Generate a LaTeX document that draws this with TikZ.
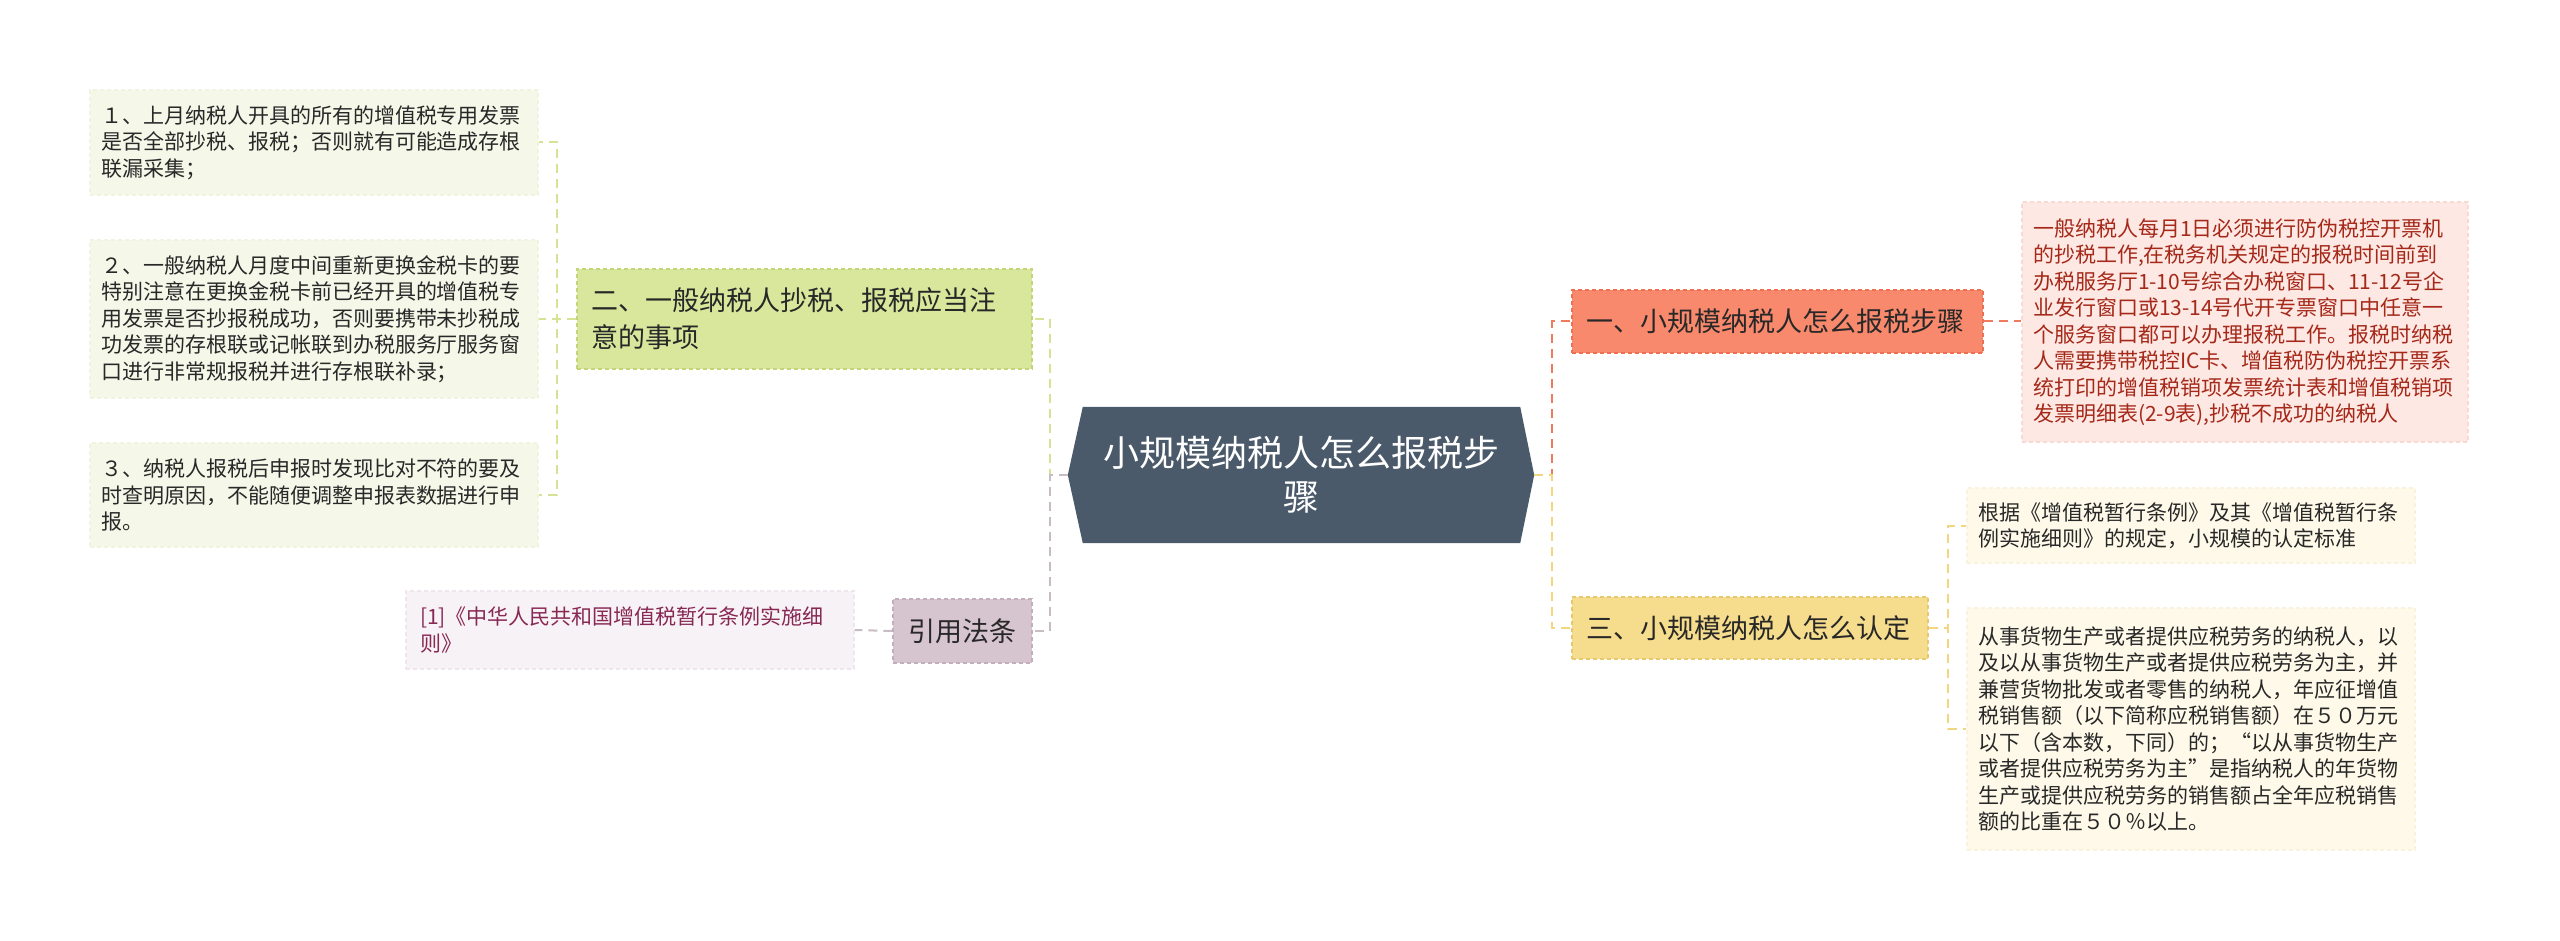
\documentclass[tikz,border=0pt]{standalone}
\usepackage{fontspec}
\setmainfont{Noto Sans CJK SC}
\usetikzlibrary{calc,backgrounds}
\definecolor{cfill}{RGB}{75,90,106}
\definecolor{gfill}{RGB}{217,231,156}
\definecolor{gborder}{RGB}{196,212,120}
\definecolor{gleaf}{RGB}{245,247,232}
\definecolor{gleafb}{RGB}{240,243,222}
\definecolor{rfill}{RGB}{249,137,108}
\definecolor{rborder}{RGB}{238,112,82}
\definecolor{rleaf}{RGB}{253,232,227}
\definecolor{rleafb}{RGB}{248,218,210}
\definecolor{rtext}{RGB}{165,40,25}
\definecolor{yfill}{RGB}{246,221,141}
\definecolor{yborder}{RGB}{232,200,110}
\definecolor{yleaf}{RGB}{254,249,232}
\definecolor{yleafb}{RGB}{249,242,220}
\definecolor{pfill}{RGB}{214,196,206}
\definecolor{pborder}{RGB}{195,175,188}
\definecolor{pleaf}{RGB}{247,242,245}
\definecolor{pleafb}{RGB}{238,230,236}
\definecolor{ptext}{RGB}{135,40,85}
\definecolor{maintext}{RGB}{40,40,40}
\definecolor{lgreen}{RGB}{215,226,150}
\definecolor{lred}{RGB}{239,122,92}
\definecolor{lyellow}{RGB}{243,214,128}
\definecolor{lgrey}{RGB}{200,188,196}
\begin{document}
\begin{tikzpicture}[x=1pt,y=-1pt,
  boxbase/.style={rectangle, dash pattern=on 4pt off 3pt, line width=1.2pt, inner ysep=0pt, anchor=center},
  leafbox/.style={boxbase, align=left, text width=426pt, inner xsep=11pt,
    font=\fontsize{21}{26.5}\selectfont, text=maintext},
  branchbox/.style={boxbase, align=left, inner xsep=14pt,
    font=\fontsize{27}{37}\selectfont, text=maintext},
  link/.style={line width=2pt, dash pattern=on 9pt off 6pt}]
\useasboundingbox (0,0) rectangle (2560,941);

% central topic
\node[minimum width=466pt, minimum height=136pt, inner sep=0pt, align=center,
  text=white, font=\fontsize{36}{44}\selectfont] (center) at (1301,475)
  {小规模纳税人怎么报税步\\骤};

% left branch
\node[branchbox, fill=gfill, draw=gborder, text width=427pt, minimum height=100pt] (b2) at (804.5,319)
  {二、一般纳税人抄税、报税应当注\\意的事项};
\node[leafbox, fill=gleaf, draw=gleafb, minimum height=105pt] (l1) at (314,142.5)
  {１、上月纳税人开具的所有的增值税专用发票\\是否全部抄税、报税；否则就有可能造成存根\\联漏采集；};
\node[leafbox, fill=gleaf, draw=gleafb, minimum height=158pt] (l2) at (314,319)
  {２、一般纳税人月度中间重新更换金税卡的要\\特别注意在更换金税卡前已经开具的增值税专\\用发票是否抄报税成功，否则要携带未抄税成\\功发票的存根联或记帐联到办税服务厅服务窗\\口进行非常规报税并进行存根联补录；};
\node[leafbox, fill=gleaf, draw=gleafb, minimum height=104pt] (l3) at (314,495)
  {３、纳税人报税后申报时发现比对不符的要及\\时查明原因，不能随便调整申报表数据进行申\\报。};

\node[boxbase, fill=pfill, draw=pborder, minimum width=139pt, minimum height=64pt,
  font=\fontsize{27}{37}\selectfont, text=maintext] (cite) at (962.5,631) {引用法条};
\node[leafbox, fill=pleaf, draw=pleafb, text=ptext, minimum height=78pt, inner xsep=14pt, text width=420pt] (ref) at (630,630)
  {[1]《中华人民共和国增值税暂行条例实施细\\则》};

% right branches
\node[branchbox, fill=rfill, draw=rborder, text width=383pt, minimum height=63pt] (b1) at (1777.5,321.5)
  {一、小规模纳税人怎么报税步骤};
\node[leafbox, fill=rleaf, draw=rleafb, text=rtext, text width=424pt, minimum height=240pt] (la) at (2245,322)
  {一般纳税人每月1日必须进行防伪税控开票机\\的抄税工作,在税务机关规定的报税时间前到\\办税服务厅1-10号综合办税窗口、11-12号企\\业发行窗口或13-14号代开专票窗口中任意一\\个服务窗口都可以办理报税工作。报税时纳税\\人需要携带税控IC卡、增值税防伪税控开票系\\统打印的增值税销项发票统计表和增值税销项\\发票明细表(2-9表),抄税不成功的纳税人};

\node[branchbox, fill=yfill, draw=yborder, text width=328pt, minimum height=62pt] (b3) at (1750,628)
  {三、小规模纳税人怎么认定};
\node[leafbox, fill=yleaf, draw=yleafb, minimum height=75pt] (lb) at (2191,525.5)
  {根据《增值税暂行条例》及其《增值税暂行条\\例实施细则》的规定，小规模的认定标准};
\node[leafbox, fill=yleaf, draw=yleafb, minimum height=242pt] (lc) at (2191,729)
  {从事货物生产或者提供应税劳务的纳税人，以\\及以从事货物生产或者提供应税劳务为主，并\\兼营货物批发或者零售的纳税人，年应征增值\\税销售额（以下简称应税销售额）在５０万元\\以下（含本数，下同）的；“以从事货物生产\\或者提供应税劳务为主”是指纳税人的年货物\\生产或提供应税劳务的销售额占全年应税销售\\额的比重在５０％以上。};

\begin{scope}[on background layer]
  \fill[cfill] (center.west) -- ($(center.north west)+(15,0)$) -- ($(center.north east)+(-14,0)$)
    -- (center.east) -- ($(center.south east)+(-14,0)$) -- ($(center.south west)+(15,0)$) -- cycle;
  % left connectors
  \draw[link, lgreen] (center.west) -- ++(-18,0) |- (b2.east);
  \draw[link, lgrey] (center.west) -- ++(-18,0) |- (cite.east);
  \draw[link, lgreen] (b2.west) -- ++(-19.5,0) |- (l1.east);
  \draw[link, lgreen] (b2.west) -- ++(-19.5,0) |- (l2.east);
  \draw[link, lgreen] (b2.west) -- ++(-19.5,0) |- (l3.east);
  \draw[link, lgrey] (cite.west) -- (ref.east);
  % right connectors
  \draw[link, lred] (center.east) -- ++(18,0) |- (b1.west);
  \draw[link, lyellow] (center.east) -- ++(18,0) |- (b3.west);
  \draw[link, lred] (b1.east) -- (b1.east -| la.west);
  \draw[link, lyellow] (b3.east) -- ++(19.5,0) |- (lb.west);
  \draw[link, lyellow] (b3.east) -- ++(19.5,0) |- (lc.west);
\end{scope}
\end{tikzpicture}
\end{document}
